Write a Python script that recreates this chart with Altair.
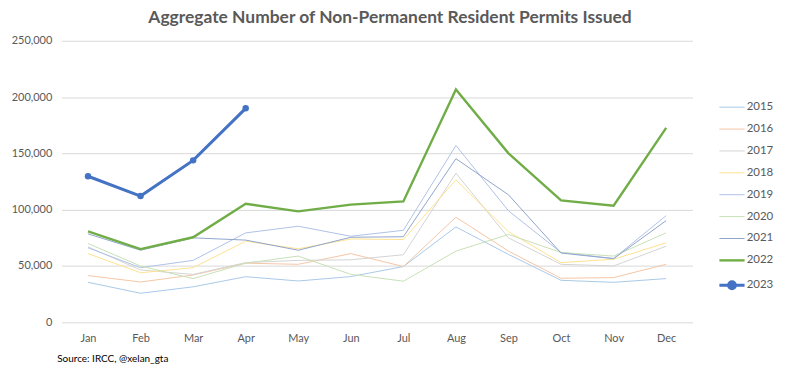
import altair as alt
import pandas as pd

months = ["Jan", "Feb", "Mar", "Apr", "May", "Jun", "Jul", "Aug", "Sep", "Oct", "Nov", "Dec"]
years = ["2015", "2016", "2017", "2018", "2019", "2020", "2021", "2022", "2023"]

y2015 = [35500, 25800, 31500, 40500, 36700, 40600, 49500, 84700, 60300, 37300, 35500, 38800]
y2016 = [41500, 35800, 42000, 52500, 51500, 61000, 49500, 93300, 63200, 39100, 39700, 51500]
y2017 = [67000, 46500, 42500, 53000, 55000, 55500, 60000, 132400, 75000, 51500, 50000, 67600]
y2018 = [61000, 44000, 48500, 72000, 65300, 74000, 73500, 126500, 80500, 53000, 56000, 70600]
y2019 = [66200, 48500, 55000, 79400, 85300, 76400, 81700, 157000, 99000, 62000, 56700, 94700]
y2020 = [70000, 50000, 38800, 52500, 58800, 42600, 36500, 63200, 78000, 62000, 58800, 79400]
y2021 = [78500, 64000, 75000, 73000, 64000, 75500, 76000, 145300, 113200, 61500, 56500, 90300]
y2022 = [80800, 65000, 75500, 105300, 98500, 104500, 107300, 206800, 150000, 108200, 103500, 172600]
y2023 = [129700, 112100, 143800, 190000]

colors = ["#A9C9E8", "#F5C6A5", "#D4D4D4", "#FFE28F", "#AFC2E6", "#C8E0B5", "#8FA5CC", "#70AD47", "#4472C4"]
widths = [1, 1, 1, 1, 1, 1, 1, 2.4, 3]

series = [y2015, y2016, y2017, y2018, y2019, y2020, y2021, y2022, y2023]
rows = []
for yr, w, vals in zip(years, widths, series):
    for i, v in enumerate(vals):
        rows.append({"month": months[i], "year": yr, "value": v, "order": i, "lw": w})
df = pd.DataFrame(rows)

FONT = "Lato"

x = alt.X("month:N", sort=months, scale=alt.Scale(type="point", padding=0.5),
          axis=alt.Axis(title="Source: IRCC, @xelan_gta", labelAngle=0, ticks=False, domain=False,
                        labelPadding=10, labelFontSize=11, labelColor="#595959", labelFont=FONT,
                        titleAnchor="start", titleAlign="left", titleX=-5, titleY=31,
                        titleBaseline="top",
                        titleFontSize=10, titleFontWeight="normal", titleColor="#000000",
                        titleFont=FONT))
y = alt.Y("value:Q", scale=alt.Scale(domain=[0, 250000]),
          axis=alt.Axis(title=None, values=[0, 50000, 100000, 150000, 200000, 250000],
                        labelExpr="format(datum.value, ',')",
                        ticks=False, domain=False, labelPadding=10, labelFontSize=11,
                        labelColor="#595959", labelFont=FONT, gridColor="#D9D9D9", gridWidth=1))

dot_path = "M-1,0L1,0M0.27,0A0.27,0.27 0 1 1 -0.27,0A0.27,0.27 0 1 1 0.27,0Z"
leg = alt.Legend(
    title=None, orient="none", legendX=668, legendY=61,
    symbolType={"expr": "datum.value == '2023' ? '" + dot_path + "' : 'stroke'"},
    symbolStrokeWidth={"expr": "datum.value == '2022' ? 2.4 : datum.value == '2023' ? 3 : 1"},
    symbolFillColor={"expr": "datum.value == '2023' ? '#4472C4' : 'transparent'"},
    symbolSize=640, labelFontSize=11.5,
    labelColor="#595959", labelFont=FONT, rowPadding=9, labelOffset=9)

cscale = alt.Scale(domain=years, range=colors)

lines = alt.Chart(df).mark_line().encode(
    x=x, y=y,
    color=alt.Color("year:N", scale=cscale, legend=leg),
    strokeWidth=alt.StrokeWidth("lw:Q", scale=None),
    order="order:Q")

pts = alt.Chart(df[df["year"] == "2023"]).mark_point(filled=True, size=42, opacity=1).encode(
    x=x, y=y, color=alt.Color("year:N", scale=cscale, legend=leg))

chart = alt.layer(lines, pts).properties(
    width=634, height=283,
    autosize=alt.AutoSizeParams(type="none"),
    padding={"left": 54, "top": 32, "right": 85, "bottom": 46},
    title=alt.TitleParams("Aggregate Number of Non-Permanent Resident Permits Issued",
                          font=FONT, fontSize=17.5, fontWeight="bold", color="#595959",
                          anchor="middle", dx=13, offset=8),
).configure_view(stroke=None)

chart.save("out.html", embed_options={"renderer": "svg", "actions": False})
